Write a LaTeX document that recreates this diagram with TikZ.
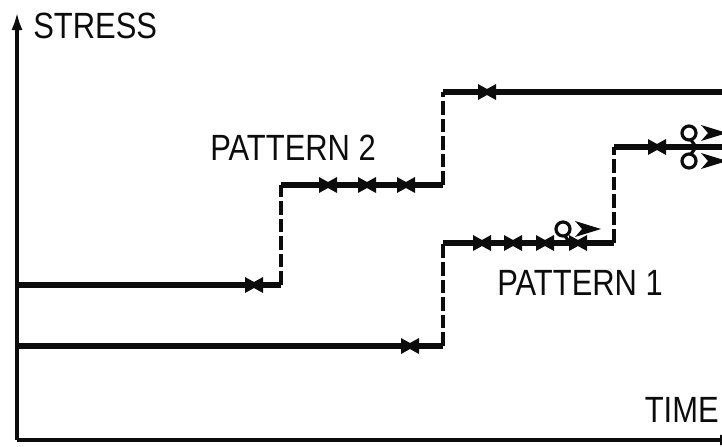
\documentclass[tikz,border=0pt]{standalone}
\usepackage{fontspec}
\setmainfont{Liberation Sans}
\usetikzlibrary{arrows.meta}
\definecolor{lineblack}{RGB}{12,12,12}

\begin{document}
\begin{tikzpicture}[
  x=0.25mm, y=-0.25mm,
  axis/.style={line width=0.9mm, draw=lineblack, -{Latex[length=4.5mm,width=2.8mm]}},
  level/.style={line width=1.4mm, draw=lineblack},
  rise/.style={line width=1.0mm, draw=lineblack, dash pattern=on 3.4mm off 1.0mm},
  lbl/.style={font=\fontsize{22}{26}\selectfont, inner sep=0pt, text=lineblack, yscale=1.18, transform shape},
  valve/.pic={\fill[lineblack] (-9,-8) -- (0,-3) -- (9,-8) -- (9,8) -- (0,3) -- (-9,8) -- cycle;},
  flag/.pic={\draw[lineblack, line width=0.8mm] (0,-14) circle (7);
    \draw[lineblack, line width=0.8mm] (2,-7) -- (7,0);
    \fill[lineblack] (12,-22) -- (38,-14) -- (12,-6) -- (19,-14) -- cycle;}
]
\useasboundingbox (0,0) rectangle (722,446);

% axes
\coordinate (origin) at (17,440);
\coordinate (ytop) at (17,12);
\coordinate (xend) at (738,440);
\draw[axis] (origin) -- (ytop);
\draw[axis] (origin) -- (xend);
\node[lbl, anchor=base west] (stress) at (33,38) {STRESS};
\node[lbl, anchor=base east] (time) at (719,422) {TIME};

% pattern 2
\coordinate (p2a) at (17,285);
\coordinate (p2b) at (281,285);
\coordinate (p2c) at (281,185);
\coordinate (p2d) at (443,185);
\coordinate (p2e) at (443,92);
\coordinate (p2f) at (722,92);
\draw[level] (p2a) -- (p2b);
\draw[rise] (p2b) -- (p2c);
\draw[level] (p2c) -- (p2d);
\draw[rise] (p2d) -- (p2e);
\draw[level] (p2e) -- (p2f);
\foreach \x/\y in {254/285, 328/185, 367/185, 406/185, 487/92}
  \pic at (\x,\y) {valve};
\node[lbl, anchor=base west] (pat2) at (210,160) {PATTERN 2};

% pattern 1
\coordinate (p1a) at (17,346);
\coordinate (p1b) at (443,346);
\coordinate (p1c) at (443,243);
\coordinate (p1d) at (614,243);
\coordinate (p1e) at (614,147);
\coordinate (p1f) at (722,147);
\draw[level] (p1a) -- (p1b);
\draw[rise] (p1b) -- (p1c);
\draw[level] (p1c) -- (p1d);
\draw[rise] (p1d) -- (p1e);
\draw[level] (p1e) -- (p1f);
\foreach \x/\y in {410/346, 482/243, 513/243, 545/243, 578/243, 657/147}
  \pic at (\x,\y) {valve};
\pic at (563,243) {flag};
\pic at (689,147) {flag};
\pic[yscale=-1] at (689,147) {flag};
\node[lbl, anchor=base west] (pat1) at (497,295) {PATTERN 1};
\end{tikzpicture}
\end{document}
